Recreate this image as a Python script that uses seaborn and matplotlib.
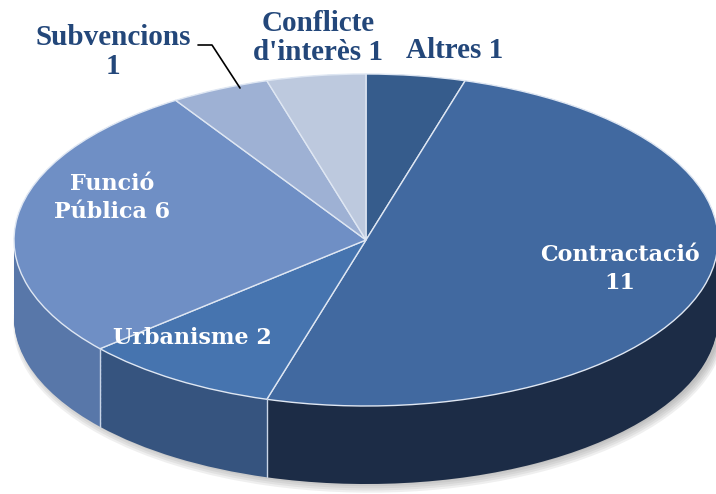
import numpy as np
import seaborn as sns
import matplotlib.pyplot as plt

# dades del gràfic
categories = ["Altres", "Contractació", "Urbanisme", "Funció Pública", "Subvencions", "Conflicte d'interès"]
counts = [1, 11, 2, 6, 1, 1]
label_texts = ["Altres 1", "Contractació\n11", "Urbanisme 2", "Funció\nPública 6", "Subvencions\n1", "Conflicte\nd'interès 1"]

top_colors = ["#365C8C", "#4169A0", "#4674AF", "#6F8FC5", "#9EB1D4", "#BDC9DE"]
side_colors = ["#223656", "#1C2C46", "#36547F", "#5877A9", "#8193B5", "#9AA8C0"]

sns.set_theme(style="white")

W, H = 716, 494
fig = plt.figure(figsize=(W / 100, H / 100), dpi=100)
ax = fig.add_axes([0, 0, 1, 1])

# el·lipse de la cara superior (en píxels)
cx, cy = 366, 240
a, b = 352, 166
depth = 0.47

# ombra suau sota el pastís
for k, d in enumerate(np.linspace(0.04, 0.0, 5)):
    ax.pie(counts, colors=["#7f7f7f"] * len(counts), startangle=90, counterclock=False,
           center=(0.01, -depth - d), radius=1 + d * 0.3,
           wedgeprops=dict(linewidth=0, alpha=0.12))

# cara lateral: pastissos apilats
for d in np.linspace(depth, 0, 60):
    ax.pie(counts, colors=side_colors, startangle=90, counterclock=False,
           center=(0, -d), radius=1, wedgeprops=dict(linewidth=0))

# línies verticals a les vores de les porcions del davant
theta = np.deg2rad(90 - 360 * np.cumsum(counts) / sum(counts))
for t in theta:
    if np.sin(t) < 0:
        ax.plot([np.cos(t), np.cos(t)], [np.sin(t), np.sin(t) - depth],
                color="#c9d5e7", lw=1.0)

# cara superior
ax.pie(counts, colors=top_colors, startangle=90, counterclock=False,
       radius=1, wedgeprops=dict(edgecolor="#dfe7f3", linewidth=1.0))

ax.set_aspect("auto")
ax.set_xlim(-cx / a, (W - cx) / a)
ax.set_ylim(-(H - cy) / b, cy / b)
ax.axis("off")

# etiquetes
outer = "#23477A"
def put(txt, x, y, color, size, family, ls=1.05):
    ax.text(x / W, 1 - y / H, txt, transform=ax.transAxes, ha="center", va="center",
            color=color, fontsize=size, fontweight="bold", family=family,
            linespacing=ls, multialignment="center")

put(label_texts[0], 455, 50, outer, 21, "Liberation Serif")
put(label_texts[5], 318, 38, outer, 21, "Liberation Serif")
put(label_texts[4], 113, 52, outer, 21, "Liberation Serif")
put(label_texts[1], 620, 269, "white", 16, "DejaVu Serif", 1.3)
put(label_texts[2], 192, 338, "white", 16, "DejaVu Serif")
put(label_texts[3], 112, 198, "white", 16, "DejaVu Serif", 1.3)

# línia guia de Subvencions
ax.plot(np.array([198, 212, 240]) / W, 1 - np.array([45, 45, 88]) / H,
        transform=ax.transAxes, color="black", lw=1.2)

fig.savefig("out.png", dpi=100)
